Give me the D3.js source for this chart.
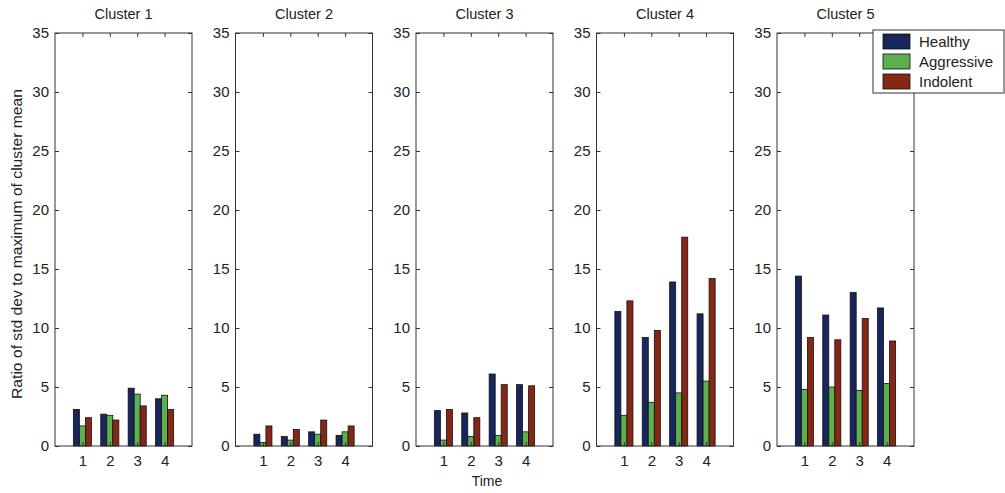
<!DOCTYPE html>
<html lang="en">
<head>
    <meta charset="UTF-8">
    <title>Cluster std dev ratio</title>
    <script src="https://cdnjs.cloudflare.com/ajax/libs/d3/7.8.5/d3.min.js"></script>
    <style>
        body { margin: 0; background: #fff; }
        text { font-family: "Liberation Sans", Arial, sans-serif; fill: #222; }
    </style>
</head>
<body>

<script>
    // data
    var clusters = ["Cluster 1", "Cluster 2", "Cluster 3", "Cluster 4", "Cluster 5"];
    var times = [1, 2, 3, 4];
    var series = ["Healthy", "Aggressive", "Indolent"];
    var colors = ["#17265c", "#5cb04e", "#862716"];
    var yTicks = [0, 5, 10, 15, 20, 25, 30, 35];

    // one row per cluster, one value per time point
    var healthy = [
        [3.1, 2.7, 4.9, 4.0],
        [1.0, 0.8, 1.2, 0.9],
        [3.0, 2.8, 6.1, 5.2],
        [11.4, 9.2, 13.9, 11.2],
        [14.4, 11.1, 13.0, 11.7]
    ];
    var aggressive = [
        [1.7, 2.6, 4.4, 4.3],
        [0.3, 0.5, 1.0, 1.2],
        [0.5, 0.8, 0.9, 1.2],
        [2.6, 3.7, 4.5, 5.5],
        [4.8, 5.0, 4.7, 5.3]
    ];
    var indolent = [
        [2.4, 2.2, 3.4, 3.1],
        [1.7, 1.4, 2.2, 1.7],
        [3.1, 2.4, 5.2, 5.1],
        [12.3, 9.8, 17.7, 14.2],
        [9.2, 9.0, 10.8, 8.9]
    ];
    var values = [healthy, aggressive, indolent];

    var width = 1005,
        height = 493,
        plotTop = 33,
        plotBottom = 446,
        firstLeft = 55,
        panelStep = 180.5,
        panelW = 137,
        tickLen = 4;

    var svg = d3.select("body").append("svg")
            .attr("width", width)
            .attr("height", height);

    var x = d3.scaleLinear().domain([0, 5]).range([0, panelW]);
    var y = d3.scaleLinear().domain([0, 35]).range([plotBottom - plotTop, 0]);
    // offsets of the three bars inside a group, in x units
    var inner = d3.scaleBand().domain(series).range([-0.33, 0.33]);
    var barW = x(inner.bandwidth()) - x(0);

    clusters.forEach(function(name, ci) {
        var g = svg.append("g")
                .attr("transform", "translate(" + (firstLeft + ci * panelStep) + "," + plotTop + ")");

        // bars
        series.forEach(function(s, si) {
            g.selectAll("rect.s" + si).data(values[si][ci])
                    .enter().append("rect")
                    .attr("class", "s" + si)
                    .attr("x", function(d, i) { return x(times[i] + inner(s)); })
                    .attr("y", function(d) { return y(d); })
                    .attr("width", barW)
                    .attr("height", function(d) { return y(0) - y(d); })
                    .attr("fill", colors[si])
                    .attr("stroke", "#111")
                    .attr("stroke-width", 0.8);
        });

        // axes with inward ticks on all four sides
        g.append("g").call(d3.axisLeft(y).tickValues(yTicks).tickSize(0).tickPadding(6));
        g.append("g").attr("transform", "translate(" + panelW + ",0)")
                .call(d3.axisLeft(y).tickValues(yTicks).tickSize(tickLen).tickFormat(""));
        g.append("g").call(d3.axisRight(y).tickValues(yTicks).tickSize(tickLen).tickFormat(""));
        g.append("g").attr("transform", "translate(0," + y(0) + ")")
                .call(d3.axisBottom(x).tickValues(times).tickFormat(d3.format("d")).tickSize(0).tickPadding(9));
        g.append("g").attr("transform", "translate(0," + y(0) + ")")
                .call(d3.axisTop(x).tickValues(times).tickSize(tickLen).tickFormat(""));
        g.append("g")
                .call(d3.axisBottom(x).tickValues(times).tickSize(tickLen).tickFormat(""));

        g.selectAll(".domain").remove();
        g.selectAll(".tick line").attr("stroke", "#333");
        g.selectAll(".tick text").attr("font-size", 15).attr("fill", "#222")
                .style("font-family", "'Liberation Sans', Arial, sans-serif");

        g.append("rect")
                .attr("width", panelW)
                .attr("height", y(0))
                .attr("fill", "none")
                .attr("stroke", "#333")
                .attr("stroke-width", 1);

        g.append("text")
                .attr("x", panelW / 2)
                .attr("y", -14)
                .attr("text-anchor", "middle")
                .attr("font-size", 14.5)
                .text(name);
    });

    // axis titles
    svg.append("text")
            .attr("transform", "translate(22,244) rotate(-90)")
            .attr("text-anchor", "middle")
            .attr("font-size", 14)
            .attr("textLength", 310)
            .attr("lengthAdjust", "spacingAndGlyphs")
            .text("Ratio of std dev to maximum of cluster mean");

    svg.append("text")
            .attr("x", 487)
            .attr("y", 486)
            .attr("text-anchor", "middle")
            .attr("font-size", 14)
            .text("Time");

    // legend
    var legend = svg.append("g").attr("transform", "translate(873,30)");
    legend.append("rect")
            .attr("width", 131)
            .attr("height", 63)
            .attr("fill", "#fff")
            .attr("stroke", "#333");
    var rows = legend.selectAll("g.row").data(series)
            .enter().append("g").attr("class", "row")
            .attr("transform", function(d, i) { return "translate(10," + (4 + i * 20) + ")"; });
    rows.append("rect")
            .attr("width", 27)
            .attr("height", 15)
            .attr("fill", function(d, i) { return colors[i]; })
            .attr("stroke", "#111")
            .attr("stroke-width", 0.8);
    rows.append("text")
            .attr("x", 36)
            .attr("y", 13)
            .attr("font-size", 15)
            .text(function(d) { return d; });
</script>

</body>
</html>
